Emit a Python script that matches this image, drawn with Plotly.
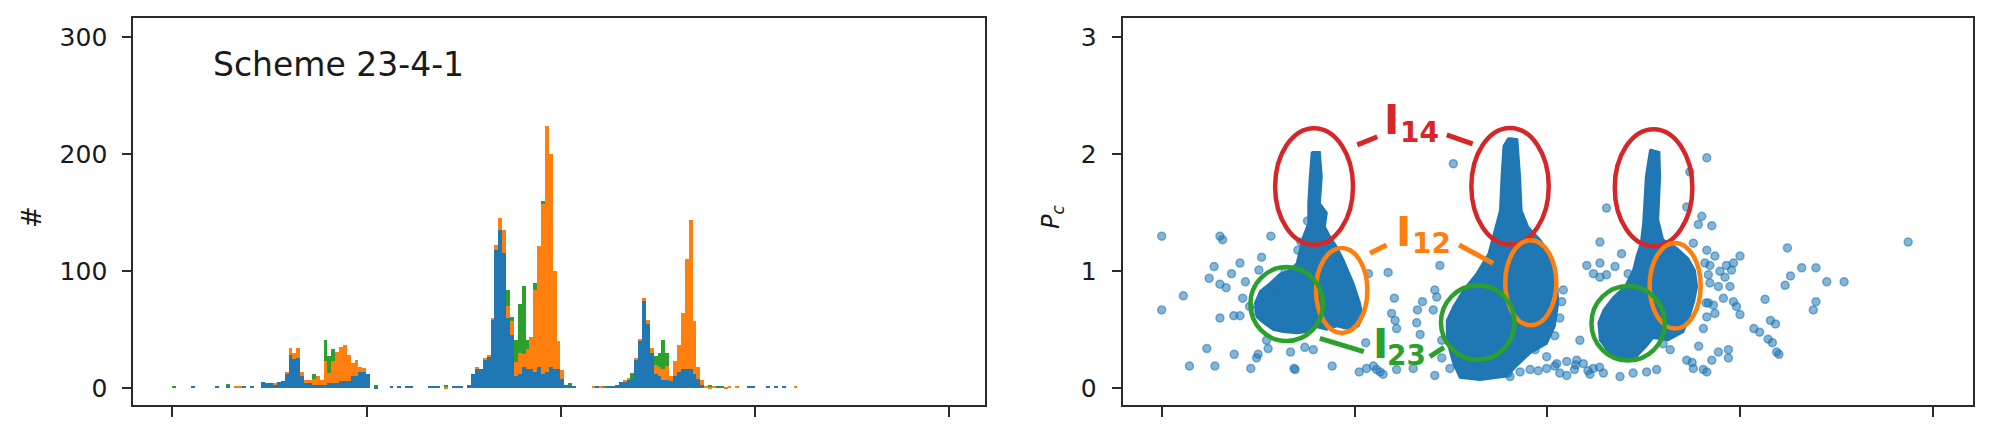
import plotly.graph_objects as go

# ---------------- left panel: stacked histogram (bin width 1 unit) ----------------
n_bins = 165
blue_counts = {
    5: 2, 11: 2, 14: 2, 18: 2, 20: 2,
    23: 5, 24: 4, 25: 4, 26: 3, 27: 5, 28: 6, 29: 12, 30: 28, 31: 25, 32: 26, 33: 10,
    34: 4, 35: 4, 36: 3, 37: 3, 38: 3, 39: 3, 40: 4, 41: 4, 42: 4, 43: 6, 44: 6, 45: 6,
    46: 10, 47: 10, 48: 14, 49: 14, 50: 12,
    52: 1, 56: 2, 58: 2, 60: 2, 61: 2, 66: 2, 67: 2, 68: 2, 72: 2, 73: 2, 74: 2, 76: 3,
    77: 12, 78: 17, 79: 16, 80: 24, 81: 27, 82: 58, 83: 118, 84: 135, 85: 115, 86: 60,
    87: 45, 88: 10, 89: 12, 90: 18, 91: 16, 92: 16, 93: 14, 94: 18, 95: 12, 96: 14,
    97: 18, 98: 16, 99: 16, 100: 8, 101: 3, 102: 3, 103: 2,
    109: 2, 112: 2, 113: 2, 114: 3, 115: 5, 116: 5, 117: 7, 118: 8, 119: 24, 120: 40,
    121: 74, 122: 55, 123: 30, 124: 12, 125: 10, 126: 7, 127: 7, 128: 6, 129: 10,
    130: 14, 131: 16, 132: 16, 133: 16, 134: 12, 135: 8, 136: 3,
    140: 2, 148: 2, 149: 2, 153: 2, 155: 2, 157: 2,
}
orange_counts = {
    16: 2, 17: 2,
    26: 1, 29: 1, 30: 6, 31: 5, 32: 8, 33: 4, 34: 3, 35: 3, 36: 5, 37: 7, 38: 4,
    39: 20, 40: 9, 41: 19, 42: 27, 43: 29, 44: 31, 45: 22, 46: 11, 47: 14, 48: 4, 49: 3,
    70: 1,
    78: 1, 80: 1, 81: 1, 82: 2, 83: 4, 84: 10, 85: 20, 86: 10, 87: 12, 88: 12, 89: 18,
    90: 11, 91: 17, 92: 28, 93: 70, 94: 103, 95: 145, 96: 210, 97: 182, 98: 84, 99: 24,
    100: 7,
    108: 2, 110: 2, 116: 2, 117: 1, 119: 2, 120: 2, 121: 3, 122: 3, 123: 4, 124: 8,
    125: 8, 126: 9, 127: 12, 128: 4, 129: 13, 130: 23, 131: 48, 132: 94, 133: 128,
    134: 45, 135: 10, 136: 4, 137: 2, 138: 1, 139: 2, 142: 1, 143: 2, 145: 2, 160: 2,
}
green_counts = {
    0: 2, 14: 1, 36: 4, 39: 18, 40: 14, 41: 10, 52: 2, 70: 2,
    86: 14, 87: 4, 88: 19, 89: 42, 90: 58, 91: 8, 93: 6, 95: 3, 102: 1,
    111: 2, 118: 5, 124: 7, 125: 12, 126: 25, 127: 11, 138: 1, 141: 2,
}

# ---------------- right panel: scatter of P_c ----------------
pts_x = [0.0, 0.0, 15.1, 15.8, 28.3, 5.6, 13.6, 12.3, 15.1, 16.7, 18.1, 20.3, 21.7, 25.9,
         25.2, 21.0, 15.1, 18.7, 20.3, 11.7, 18.8, 7.2, 13.8, 23.1, 24.6, 25.0, 27.2, 27.6,
         34.3, 34.6, 33.4, 37.1, 39.3, 44.2, 51.2, 53.1, 56.6, 57.4, 60.9, 52.9, 58.7, 60.3,
         59.6, 60.5, 60.9, 66.3, 67.6, 66.1, 67.0, 65.2, 53.6, 22.8, 24.0, 54.9, 55.7,
         75.6, 72.1, 70.8, 71.3, 70.4, 72.6, 72.6, 74.7, 70.8, 86.8, 89.8, 90.3, 92.9, 95.5,
         96.8, 99.8, 102.4, 105.0, 107.6, 109.3, 103.2, 105.0, 101.9, 103.2, 104.1, 103.7,
         108.4, 110.2, 113.6, 113.6, 115.3, 111.9, 117.5, 120.9, 113.6, 115.3, 119.2, 111.9,
         114.5, 118.8, 122.2, 125.7, 128.3, 131.8, 130.0, 136.1, 137.8, 140.4, 140.4, 141.3,
         141.1, 137.8, 139.1, 140.0, 141.3, 136.9, 136.1, 141.3, 140.8,
         95.5, 97.6, 99.8, 101.9, 107.3, 110.5, 111.0, 113.5, 107.0,
         142.6, 143.4, 142.1, 146.4, 148.2, 149.9, 144.7, 147.7, 146.0, 141.7, 142.1, 144.3,
         147.3, 145.6, 141.7, 143.4, 143.0, 148.2, 149.0, 149.9, 144.3, 142.6, 146.9, 146.9,
         141.3, 156.4, 157.8, 153.5, 157.2, 159.4, 162.2, 161.6, 163.0, 165.9, 169.6, 172.4,
         176.9, 169.6, 168.9, 193.5, 139.2, 137.5, 159.1, 155.0, 158.3, 160.0,
         37.8, 35.3, 36.1, 32.0, 29.5]
pts_y = [1.30, 0.67, 1.30, 1.27, 1.30, 0.79, 1.04, 0.94, 0.89, 0.86, 0.98, 1.07, 0.91, 1.12,
         1.01, 0.77, 0.60, 0.62, 0.62, 0.34, 0.29, 0.19, 0.19, 0.17, 0.26, 0.29, 0.41, 0.34,
         0.17, 0.16, 0.31, 0.35, 0.33, 0.19, 0.14, 0.17, 0.14, 0.12, 0.16, 0.39, 0.99, 0.77,
         0.64, 0.58, 0.51, 0.67, 0.74, 0.56, 0.46, 0.17, 0.98, 0.70, 0.66, 0.19, 0.16,
         1.92, 1.05, 0.84, 0.78, 0.67, 0.41, 0.26, 0.17, 0.11, 0.13, 0.13, 0.10, 0.14, 0.38,
         0.33, 0.27, 0.21, 0.23, 0.24, 0.21, 0.13, 0.11, 0.45, 0.60, 0.84, 0.74,
         0.41, 1.05, 1.07, 0.95, 0.97, 0.98, 1.04, 0.98, 1.25, 1.54, 1.15, 0.17,
         0.13, 0.10, 0.13, 0.14, 0.16, 0.33, 0.38, 0.24, 0.17, 0.16, 0.51, 0.61,
         0.73, 1.24, 1.40, 1.47, 1.97, 1.85, 1.55, 1.18, 1.07,
         0.16, 0.15, 0.17, 0.19, 0.20, 0.15, 0.12, 0.18, 0.16,
         1.39, 1.13, 1.05, 1.05, 1.07, 1.13, 1.00, 1.01, 0.95, 0.97, 0.90, 0.87,
         0.87, 0.77, 0.73, 0.64, 0.71, 0.74, 0.70, 0.63, 0.31, 0.24, 0.33, 0.26,
         0.14, 0.76, 0.58, 0.51, 0.42, 0.31, 1.20, 0.88, 0.96, 1.03, 1.03, 0.91,
         0.91, 0.74, 0.67, 1.25, 0.36, 0.22, 0.55, 0.48, 0.39, 0.29,
         1.43, 1.18, 1.25, 1.00, 0.82]

# outlines of the three densely populated point clouds
cloud1_x = [38.9, 41.0, 41.5, 41.0, 42.8, 42.3, 43.6, 45.4, 47.1, 49.7, 51.4, 52.1, 51.0, 47.9,
            45.4, 42.8, 39.3, 37.6, 35.0, 31.5, 28.9, 26.3, 24.6, 24.2, 25.5, 28.1, 30.7, 33.3,
            35.0, 35.8, 36.7, 38.0, 38.0, 38.4]
cloud1_y = [2.02, 2.02, 1.81, 1.58, 1.50, 1.38, 1.30, 1.21, 1.10, 0.90, 0.73, 0.61, 0.53, 0.51,
            0.53, 0.50, 0.53, 0.48, 0.47, 0.48, 0.50, 0.56, 0.61, 0.73, 0.83, 0.90, 0.98, 1.01,
            1.07, 1.18, 1.30, 1.41, 1.58, 1.81]
cloud2_x = [89.85, 92.2, 92.9, 93.3, 95.0, 98.1, 100.6, 102.4, 102.8, 101.9, 99.8, 95.5, 92.0,
            89.4, 82.5, 77.3, 75.6, 73.9, 73.9, 75.6, 78.2, 81.6, 84.7, 86.4, 87.7, 88.1, 88.6]
cloud2_y = [2.14, 2.13, 1.81, 1.52, 1.38, 1.27, 1.15, 0.95, 0.73, 0.53, 0.38, 0.30, 0.19,
            0.10, 0.07, 0.09, 0.21, 0.41, 0.58, 0.70, 0.84, 0.98, 1.15, 1.35, 1.52, 1.81, 2.07]
cloud3_x = [126.6, 129.0, 129.2, 128.7, 130.0, 133.5, 136.5, 138.2, 138.8, 138.0, 136.8, 135.2,
            131.3, 127.4, 125.7, 123.1, 118.8, 115.8, 113.6, 113.2, 114.5, 117.1, 120.1, 122.2,
            123.1, 124.2, 124.8, 125.5]
cloud3_y = [2.04, 2.02, 1.81, 1.44, 1.27, 1.20, 1.11, 1.01, 0.87, 0.74, 0.61, 0.48, 0.41, 0.43,
            0.36, 0.27, 0.24, 0.31, 0.41, 0.56, 0.67, 0.78, 0.87, 1.01, 1.13, 1.24, 1.41, 1.81]

# highlighted regions (ellipses): centre x, centre y, half-width, half-height
ell_cx = [39.5, 90.3, 127.5, 46.66, 95.67, 133.1, 32.4, 81.93, 120.9]
ell_cy = [1.725, 1.727, 1.714, 0.836, 0.902, 0.876, 0.72, 0.562, 0.556]
ell_rx = [10.1, 10.03, 10.06, 6.66, 6.61, 6.61, 9.41, 9.54, 9.51]
ell_ry = [0.498, 0.498, 0.50, 0.363, 0.363, 0.366, 0.316, 0.318, 0.319]
ell_col = ["#d62728"] * 3 + ["#ff7f0e"] * 3 + ["#2ca02c"] * 3

# connector segments from labels to ellipses
seg_x0 = [50.7, 73.9, 54.0, 77.1, 41.0, 69.5]
seg_y0 = [2.08, 2.165, 1.154, 1.225, 0.427, 0.27]
seg_x1 = [55.9, 80.6, 58.3, 85.9, 52.4, 73.2]
seg_y1 = [2.15, 2.088, 1.225, 1.068, 0.313, 0.35]
seg_col = ["#d62728", "#d62728", "#ff7f0e", "#ff7f0e", "#2ca02c", "#2ca02c"]

# labels: main letter and subscript positions
lab_sub = ["14", "12", "23"]
lab_col = ["#d62728", "#ff7f0e", "#2ca02c"]
lab_ix = [59.7, 62.6, 56.6]
lab_iy = [2.293, 1.338, 0.377]
lab_sx = [66.95, 69.9, 63.5]
lab_sy = [2.186, 1.236, 0.278]

blue, orange, green = "#1f77b4", "#ff7f0e", "#2ca02c"

fig = go.Figure()
centers = [i + 0.5 for i in range(n_bins)]
for counts, col in [(blue_counts, blue), (orange_counts, orange), (green_counts, green)]:
    fig.add_trace(go.Bar(x=centers, y=[counts.get(i, 0) for i in range(n_bins)], width=1,
                         marker=dict(color=col, line=dict(width=0)),
                         xaxis="x", yaxis="y", showlegend=False, hoverinfo="skip"))

for cx, cy in [(cloud1_x, cloud1_y), (cloud2_x, cloud2_y), (cloud3_x, cloud3_y)]:
    fig.add_trace(go.Scatter(x=cx + [cx[0]], y=cy + [cy[0]], mode="lines", fill="toself",
                             fillcolor=blue, line=dict(color=blue, width=2),
                             xaxis="x2", yaxis="y2", showlegend=False, hoverinfo="skip"))

fig.add_trace(go.Scatter(x=pts_x, y=pts_y, mode="markers",
                         marker=dict(size=8, color="rgba(31,119,180,0.55)",
                                     line=dict(color="rgba(31,119,180,0.55)", width=1.5)),
                         xaxis="x2", yaxis="y2", showlegend=False))

shapes = []
for cx, cy, rx, ry, col in zip(ell_cx, ell_cy, ell_rx, ell_ry, ell_col):
    shapes.append(dict(type="circle", xref="x2", yref="y2", x0=cx - rx, x1=cx + rx,
                       y0=cy - ry, y1=cy + ry, line=dict(color=col, width=4.5)))
for x0, y0, x1, y1, col in zip(seg_x0, seg_y0, seg_x1, seg_y1, seg_col):
    shapes.append(dict(type="line", xref="x2", yref="y2", x0=x0, y0=y0, x1=x1, y1=y1,
                       line=dict(color=col, width=5)))

font = "DejaVu Sans"
annotations = [
    dict(text="Scheme 23-4-1", xref="paper", yref="paper", x=211 / 2000, y=1 - 64 / 438,
         xanchor="left", yanchor="middle", showarrow=False,
         font=dict(family=font, size=33, color="#1a1a1a")),
    dict(text="#", xref="paper", yref="paper", x=32 / 2000, y=1 - 217 / 438, textangle=-90,
         xanchor="center", yanchor="middle", showarrow=False,
         font=dict(family=font, size=26, color="#1a1a1a")),
    dict(text="<i>P</i><sub><i>c</i></sub>", xref="paper", yref="paper", x=1052 / 2000,
         y=1 - 217 / 438, textangle=-90, xanchor="center", yanchor="middle", showarrow=False,
         font=dict(family=font, size=24, color="#1a1a1a")),
]
for sub, col, ix, iy, sx, sy in zip(lab_sub, lab_col, lab_ix, lab_iy, lab_sx, lab_sy):
    annotations.append(dict(text="<b>I</b>", xref="x2", yref="y2", x=ix, y=iy,
                            xanchor="center", yanchor="middle", showarrow=False,
                            font=dict(family=font, size=41, color=col)))
    annotations.append(dict(text="<b>" + sub + "</b>", xref="x2", yref="y2", x=sx, y=sy,
                            xanchor="center", yanchor="middle", showarrow=False,
                            font=dict(family=font, size=28, color=col)))

axcol = "#2b2b2b"
common_x = dict(showgrid=False, zeroline=False, showline=True, linewidth=2, linecolor=axcol,
                mirror=True, ticks="outside", ticklen=10, tickwidth=2, tickcolor=axcol,
                tickvals=[0, 50, 100, 150, 200], showticklabels=False)
common_y = dict(showgrid=False, zeroline=False, showline=True, linewidth=2, linecolor=axcol,
                mirror=True, ticks="outside", ticklen=9, tickwidth=2, tickcolor=axcol,
                tickfont=dict(family=font, size=25, color="#1a1a1a"), ticklabelstandoff=10)
ydom = [1 - 405 / 438, 1 - 18.3 / 438]

fig.update_layout(
    width=2000, height=438, margin=dict(l=0, r=0, t=0, b=0),
    paper_bgcolor="white", plot_bgcolor="white",
    barmode="stack", bargap=0, bargroupgap=0, showlegend=False,
    xaxis=dict(domain=[133.3 / 2000, 985 / 2000], range=[-10.04, 209.2], anchor="y", **common_x),
    yaxis=dict(domain=ydom, range=[-14.26, 316.2], tickvals=[0, 100, 200, 300], anchor="x",
               **common_y),
    xaxis2=dict(domain=[1122.7 / 2000, 1973 / 2000], range=[-10.1, 210.3], anchor="y2",
                **common_x),
    yaxis2=dict(domain=ydom, range=[-0.1427, 3.162], tickvals=[0, 1, 2, 3], anchor="x2",
                **common_y),
    shapes=shapes, annotations=annotations,
)

fig.write_html("out.html", config={"displayModeBar": False},
               post_script="document.body.style.margin='0';document.body.style.overflow='hidden';")
